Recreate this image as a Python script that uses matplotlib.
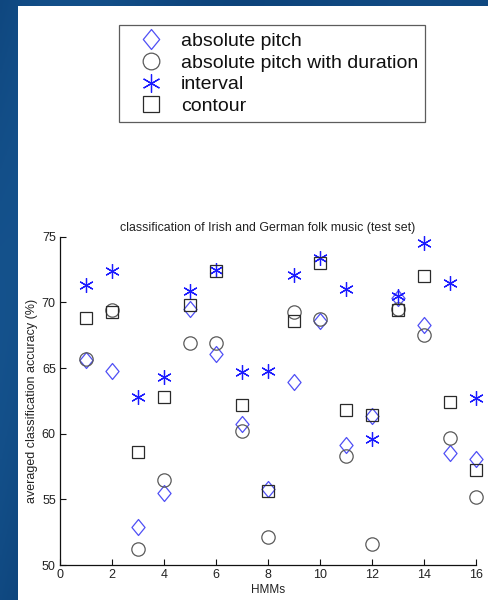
import numpy as np
import matplotlib
matplotlib.use("Agg")
import matplotlib.pyplot as plt
from matplotlib.path import Path
from matplotlib.patches import Rectangle

plt.rcParams['font.family'] = ['Liberation Sans', 'DejaVu Sans']

hmms = [1, 2, 3, 4, 5, 6, 7, 8, 9, 10, 11, 12, 13, 14, 15, 16]
absolute_pitch = [65.6, 64.8, 52.9, 55.5, 69.5, 66.1, 60.7, 55.8, 63.9, 68.6, 59.1, 61.35, 70.3, 68.3, 58.5, 58.1]
absolute_pitch_duration = [65.7, 69.4, 51.2, 56.5, 66.9, 66.9, 60.2, 52.1, 69.3, 68.7, 58.3, 51.6, 69.5, 67.5, 59.65, 55.15]
interval = [71.3, 72.4, 62.8, 64.3, 70.9, 72.5, 64.7, 64.8, 72.1, 73.4, 71.0, 59.6, 70.5, 74.5, 71.5, 62.75]
contour = [68.8, 69.3, 58.6, 62.8, 69.8, 72.4, 62.2, 55.6, 68.6, 73.0, 61.8, 61.4, 69.4, 72.0, 62.4, 57.2]

labels = ["absolute pitch", "absolute pitch with duration", "interval", "contour"]
title = "classification of Irish and German folk music (test set)"
xlabel = "HMMs"
ylabel = "averaged classification accuracy (%)"

W, H = 489, 600
fig = plt.figure(figsize=(W / 100, H / 100), dpi=100)
fig.patch.set_facecolor('#0b4679')

# blue background gradient
bg = fig.add_axes([0, 0, 1, 1], zorder=-10)
gx = np.linspace(0, 1, 200)
gy = np.linspace(0, 1, 200)
GX, GY = np.meshgrid(gx, gy)
val = 0.5 + 0.25 * np.sin(GX * 9 + GY * 3) * np.exp(-GX * 2)
c1 = np.array([0.02, 0.20, 0.40])
c2 = np.array([0.10, 0.36, 0.60])
img = c1[None, None, :] * (1 - val[..., None]) + c2[None, None, :] * val[..., None]
bg.imshow(img, extent=[0, 1, 0, 1], aspect='auto')
bg.axis('off')
# white panel
fig.patches.append(Rectangle((18 / W, 0), 1 - 18 / W, 1 - 6 / H, transform=fig.transFigure,
                             facecolor='white', edgecolor='none', zorder=-5))

ax = fig.add_axes([60 / W, 1 - 565 / H, (476 - 60) / W, (565 - 236.7) / H])
ax.set_facecolor('none')

diamond = Path([(0, 1), (0.82, 0), (0, -1), (-0.82, 0), (0, 1)],
               [Path.MOVETO, Path.LINETO, Path.LINETO, Path.LINETO, Path.CLOSEPOLY])

h1, = ax.plot(hmms, absolute_pitch, linestyle='none', marker=diamond, ms=11.5,
              mfc='none', mec='#4f4ff5', mew=0.9, clip_on=False)
h2, = ax.plot(hmms, absolute_pitch_duration, linestyle='none', marker='o', ms=9.6,
              mfc='none', mec='#5a5a5a', mew=0.9, clip_on=False)
h3, = ax.plot(hmms, interval, linestyle='none', marker=(6, 2, 0), ms=10.5,
              mfc='none', mec='#1a1aff', mew=0.9, clip_on=False)
h4, = ax.plot(hmms, contour, linestyle='none', marker='s', ms=8.8,
              mfc='none', mec='#2a2a2a', mew=0.9, clip_on=False)

ax.set_xlim(0, 16)
ax.set_ylim(50, 75)
ax.set_xticks(np.arange(0, 17, 2))
ax.set_yticks(np.arange(50, 76, 5))
ax.spines['top'].set_visible(False)
ax.spines['right'].set_visible(False)
for s in ('left', 'bottom'):
    ax.spines[s].set_linewidth(0.9)
    ax.spines[s].set_color('#111111')
ax.tick_params(direction='in', length=4.3, width=0.8, labelsize=9, pad=3,
               colors='#111111', labelcolor='#222222')

ax.set_title(title, fontsize=8.9, color='#222222', pad=4)
ax.set_xlabel(xlabel, fontsize=8.5, color='#222222', labelpad=2)
ax.set_ylabel(ylabel, fontsize=9, color='#222222', labelpad=3)

leg = fig.legend([h1, h2, h3, h4], labels, loc='upper left',
                 bbox_to_anchor=(119 / W, 1 - 25 / H), bbox_transform=fig.transFigure,
                 fontsize=14, frameon=True, fancybox=False, numpoints=1,
                 handlelength=2.58, handletextpad=0.25, borderpad=0.36,
                 labelspacing=0.22, borderaxespad=0, markerscale=1.25)
leg.get_frame().set_edgecolor('#333333')
leg.get_frame().set_linewidth(0.9)
for t in leg.get_texts():
    t.set_color('#111111')

fig.savefig('out.png', dpi=100)
